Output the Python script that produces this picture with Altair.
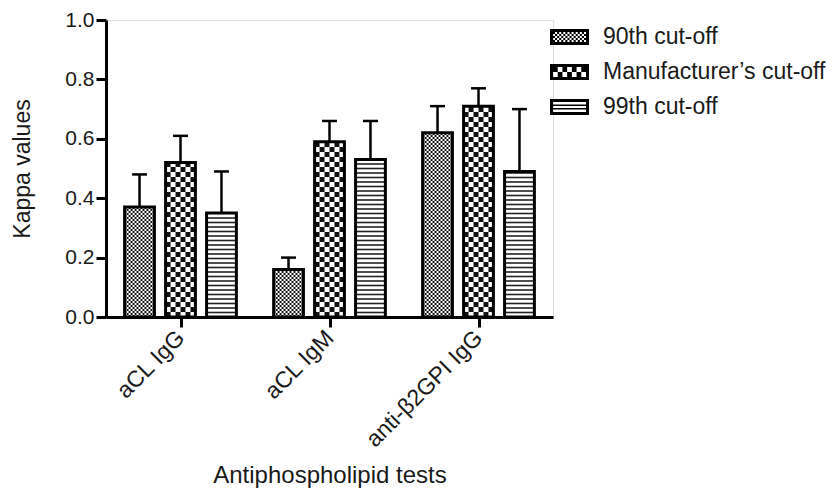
import json
import math
import numpy as np
import pandas as pd
import altair as alt

# ---------------- data ----------------
tests = ["aCL IgG", "aCL IgM", "anti-β2GPI IgG"]
series = ["90th cut-off", "Manufacturer’s cut-off", "99th cut-off"]
kappa_90 = [0.37, 0.16, 0.62]
kappa_man = [0.52, 0.59, 0.71]
kappa_99 = [0.35, 0.53, 0.49]
upper_90 = [0.48, 0.20, 0.71]
upper_man = [0.61, 0.66, 0.77]
upper_99 = [0.49, 0.66, 0.70]
y_ticks = [0.0, 0.2, 0.4, 0.6, 0.8, 1.0]

# ---------------- layout / style ----------------
W, H = 447, 297
FONT = "Liberation Sans"
TXT = "#1a1a1a"
offsets = [-0.275, 0.0, 0.275]
half = 0.1          # half bar width (x units)
cap_half = 0.05     # half cap width
x_dom = [-0.5, len(tests) - 0.5]
uy = 1.0 / H        # data units per pixel (y)

vals = [kappa_90, kappa_man, kappa_99]
ups = [upper_90, upper_man, upper_99]

rows = []
for s_i, s in enumerate(series):
    for t_i, t in enumerate(tests):
        xc = t_i + offsets[s_i]
        rows.append(dict(series=s, test=t, xc=xc, bx0=xc - half, bx1=xc + half,
                         c0=xc - cap_half, c1=xc + cap_half,
                         zero=0.0, value=vals[s_i][t_i], upper=ups[s_i][t_i]))
bars = pd.DataFrame(rows)

# pattern cells (derived from bar values)
def checker(df, ncols, cell_px):
    out = []
    rh = cell_px * uy
    for _, r in df.iterrows():
        cw = (r.bx1 - r.bx0) / ncols
        nrows = int(math.ceil(r.value / rh))
        for i in range(nrows):
            for j in range(ncols):
                if (i + j) % 2 == 0:
                    y0 = i * rh
                    y1 = min((i + 1) * rh, r.value)
                    out.append(dict(bx0=r.bx0 + j * cw, bx1=r.bx0 + (j + 1) * cw, zero=y0, value=y1))
    return pd.DataFrame(out)

fine = checker(bars[bars.series == series[0]], 15, 2.0)
coarse = checker(bars[bars.series == series[1]], 6, 5.0)

stripe_rows = []
period = 4.5 * uy
for _, r in bars[bars.series == series[2]].iterrows():
    k = 1
    while k * period < r.value - 1.5 * uy:
        stripe_rows.append(dict(bx0=r.bx0, bx1=r.bx1, zero=k * period))
        k += 1
stripes = pd.DataFrame(stripe_rows)

# ---------------- legend symbols (custom paths) ----------------
R = 17.0  # sqrt(size)/2
hw, hh = 19.5 / R, 8.0 / R
t = 3.0 / R

def rect_cw(x0, y0, x1, y1):
    return f"M{x0:.3f},{y0:.3f}H{x1:.3f}V{y1:.3f}H{x0:.3f}Z"

def rect_ccw(x0, y0, x1, y1):
    return f"M{x0:.3f},{y0:.3f}V{y1:.3f}H{x1:.3f}V{y0:.3f}Z"

frame = rect_cw(-hw, -hh, hw, hh) + rect_ccw(-hw + t, -hh + t, hw - t, hh - t)

def legend_checker(cell_px):
    c = cell_px / R
    ix0, iy0, ix1, iy1 = -hw + t, -hh + t, hw - t, hh - t
    nc = int(round((ix1 - ix0) / c))
    nr = int(round((iy1 - iy0) / c))
    cw = (ix1 - ix0) / nc
    ch = (iy1 - iy0) / nr
    p = ""
    for i in range(nr):
        for j in range(nc):
            if (i + j) % 2 == 0:
                p += rect_cw(ix0 + j * cw, iy0 + i * ch, ix0 + (j + 1) * cw, iy0 + (i + 1) * ch)
    return p

def legend_stripes():
    iy0, iy1 = -hh + t, hh - t
    ix0, ix1 = -hw + t, hw - t
    p = ""
    step = (iy1 - iy0) / 3
    lw = 1.5 / R
    for k in (1, 2):
        yc = iy0 + k * step
        p += rect_cw(ix0, yc - lw / 2, ix1, yc + lw / 2)
    return p

shape_paths = [frame + legend_checker(2.0), frame + legend_checker(5.0), frame + legend_stripes()]

# ---------------- chart ----------------
label_expr = "%s[datum.value]" % json.dumps(tests, ensure_ascii=False)

x_axis = alt.Axis(values=list(range(len(tests))), labelExpr=label_expr, labelAngle=-45,
                  labelAlign="right", labelBaseline="middle", labelFontSize=23, labelPadding=7,
                  tickSize=10, tickWidth=3, tickColor="black", domainWidth=3, domainColor="black",
                  grid=False, title="Antiphospholipid tests", titleFontSize=24,
                  titleFontWeight="normal", titleX=W / 2, titleY=165, titleBaseline="alphabetic",
                  titleAlign="center", labelColor=TXT, titleColor=TXT, labelFont=FONT,
                  titleFont=FONT)
y_axis = alt.Axis(values=y_ticks, format=".1f", labelFontSize=21, labelPadding=2,
                  tickSize=10, tickWidth=3, tickColor="black", domainWidth=3, domainColor="black",
                  grid=False, title="Kappa values", titleFontSize=23, titleFontWeight="normal",
                  titleX=-84, titleY=H / 2, titleAngle=-90, titleBaseline="middle",
                  titleAlign="center", labelColor=TXT, titleColor=TXT, labelFont=FONT,
                  titleFont=FONT)

xs = alt.Scale(domain=x_dom, nice=False, zero=False)
ys = alt.Scale(domain=[0, 1], nice=False)

def X(f):
    return alt.X(f, type="quantitative", scale=xs, axis=x_axis)

def Y(f):
    return alt.Y(f, type="quantitative", scale=ys, axis=y_axis)

base_bars = alt.Chart(bars).mark_rect(fill="white", strokeWidth=0).encode(
    x=X("bx0"), x2="bx1", y=Y("zero"), y2="value",
)
fine_layer = alt.Chart(fine).mark_rect(fill="#111111", strokeWidth=0).encode(
    x=X("bx0"), x2="bx1", y=Y("zero"), y2="value",
)
coarse_layer = alt.Chart(coarse).mark_rect(fill="#111111", strokeWidth=0).encode(
    x=X("bx0"), x2="bx1", y=Y("zero"), y2="value",
)
stripe_layer = alt.Chart(stripes).mark_rule(color="#222222", strokeWidth=1.6).encode(
    x=X("bx0"), x2="bx1", y=Y("zero"),
)
outline = alt.Chart(bars).mark_rect(fillOpacity=0, stroke="black", strokeWidth=3).encode(
    x=X("bx0"), x2="bx1", y=Y("zero"), y2="value",
)
err = alt.Chart(bars).mark_rule(color="black", strokeWidth=2.5).encode(
    x=X("xc"), y=Y("value"), y2="upper",
)
caps = alt.Chart(bars).mark_rule(color="black", strokeWidth=2.5).encode(
    x=X("c0"), x2="c1", y=Y("upper"),
)
legend_layer = alt.Chart(bars).transform_filter("datum.value < 0").mark_point(
    filled=True, color="black", strokeWidth=0, size=int(4 * R * R)
).encode(
    x=X("xc"), y=Y("value"),
    shape=alt.Shape("series:N", scale=alt.Scale(domain=series, range=shape_paths),
                    legend=alt.Legend(title=None, orient="none", legendX=446.5, legendY=0,
                                      padding=0, rowPadding=6, symbolSize=int(4 * R * R),
                                      symbolFillColor="black", symbolStrokeWidth=0,
                                      symbolOpacity=1, labelFontSize=23, labelOffset=16.5,
                                      labelLimit=0, labelColor=TXT, labelFont=FONT)),
)

chart = alt.layer(base_bars, fine_layer, coarse_layer, stripe_layer, outline, err, caps,
                  legend_layer).properties(
    width=W, height=H,
    padding={"left": 98, "top": 12, "right": 277, "bottom": 171},
    autosize=alt.AutoSizeParams(type="none"),
).configure_view(strokeWidth=0).configure(font=FONT)

chart.save("out.html", embed_options={"renderer": "svg", "actions": False})
